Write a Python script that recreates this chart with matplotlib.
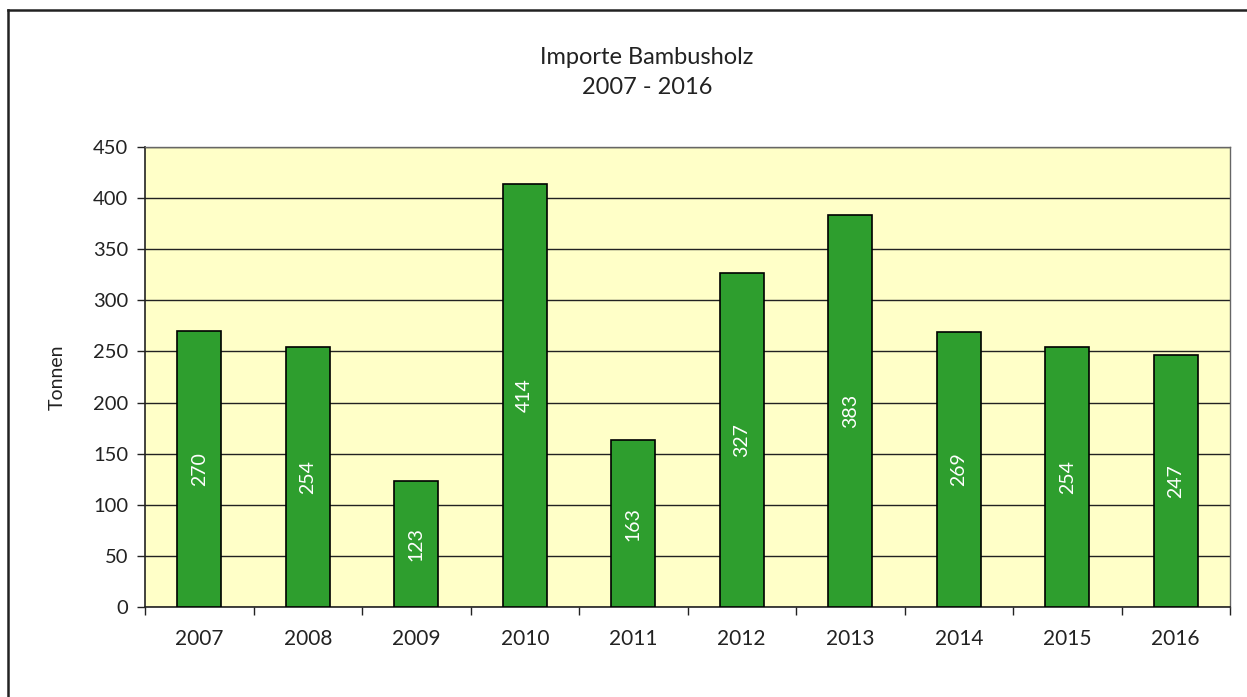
import matplotlib
matplotlib.use("Agg")
import matplotlib.pyplot as plt
from matplotlib.lines import Line2D
import numpy as np

years = ["2007", "2008", "2009", "2010", "2011", "2012", "2013", "2014", "2015", "2016"]
tonnen = [270, 254, 123, 414, 163, 327, 383, 269, 254, 247]
yticks = [0, 50, 100, 150, 200, 250, 300, 350, 400, 450]

plt.rcParams['font.family'] = ['Lato', 'DejaVu Sans']

W, H = 1247, 697
fig = plt.figure(figsize=(W / 100, H / 100), dpi=100)
fig.patch.set_facecolor("white")

# figure frame (top and left lines visible)
fig.add_artist(Line2D([8 / W, 1.01], [1 - 10 / H, 1 - 10 / H], transform=fig.transFigure, color="#222222", lw=1.8))
fig.add_artist(Line2D([8 / W, 8 / W], [-0.01, 1 - 10 / H], transform=fig.transFigure, color="#222222", lw=1.8))

ax = fig.add_axes([145 / W, (H - 607) / H, (1230 - 145) / W, (607 - 147) / H])
ax.set_facecolor("#FFFFC8")

x = np.arange(len(years))
bars = ax.bar(x, tonnen, width=0.41, color="#2E9E2E", edgecolor="black", linewidth=1.2, zorder=3)
for xi, v in zip(x, tonnen):
    ax.text(xi, v / 2, str(v), rotation=90, ha="center", va="center", color="white",
            fontsize=14, zorder=4)

ax.set_xlim(-0.5, len(years) - 0.5)
ax.set_ylim(0, 450)
ax.set_yticks(yticks)
ax.set_yticklabels([str(t) for t in yticks], fontsize=14.5, color="#222222")
ax.yaxis.grid(True, color="#222222", linewidth=1.0, zorder=1)
ax.set_axisbelow(True)

ax.set_xticks(x)
ax.set_xticklabels(years, fontsize=15, color="#222222")
ax.tick_params(axis="x", length=0, pad=16)
ax.set_xticks(np.arange(-0.5, len(years), 1), minor=True)
ax.tick_params(axis="x", which="minor", length=6, width=1, color="#222222", direction="out")
ax.tick_params(axis="y", length=6, width=1, color="#222222", direction="out", pad=6)

for s in ["left", "bottom"]:
    ax.spines[s].set_color("#222222")
    ax.spines[s].set_linewidth(1.2)
for s in ["top", "right"]:
    ax.spines[s].set_color("#666666")
    ax.spines[s].set_linewidth(1.0)

ax.set_ylabel("Tonnen", fontsize=14, color="#222222", labelpad=20)

fig.text(647 / W, 1 - 57 / H, "Importe Bambusholz", ha="center", va="center", fontsize=17, color="#222222")
fig.text(647 / W, 1 - 87 / H, "2007 - 2016", ha="center", va="center", fontsize=17, color="#222222")

fig.savefig("out.png", dpi=100)
